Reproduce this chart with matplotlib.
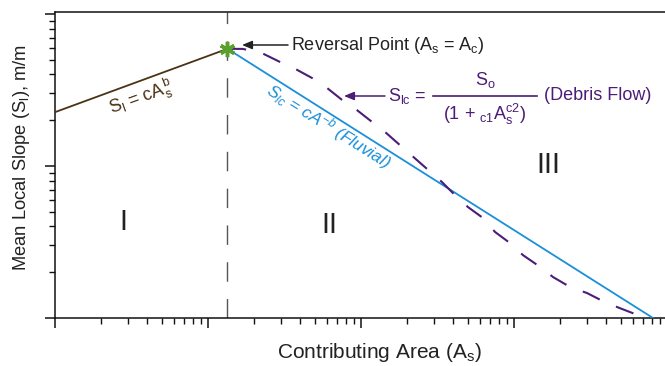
import matplotlib
matplotlib.use('Agg')
import matplotlib.pyplot as plt
from matplotlib.lines import Line2D
from matplotlib.ticker import LogLocator, NullFormatter

plt.rcParams['font.family'] = ['Liberation Sans', 'DejaVu Sans']
plt.rcParams['mathtext.fontset'] = 'custom'
plt.rcParams['mathtext.rm'] = 'Liberation Sans'
plt.rcParams['mathtext.it'] = 'Liberation Sans:italic'
plt.rcParams['mathtext.sf'] = 'Liberation Sans'

# reversal point (A_s = A_c)
rev_area, rev_slope = 13.4, 59.0

# hillslope segment (region I)
hill_area = [1.0, rev_area]
hill_slope = [22.6, rev_slope]

# fluvial segment
fluv_area = [rev_area, 8100.0]
fluv_slope = [rev_slope, 1.0]

# debris flow curve
debris_area = [13.4, 16.9, 22.5, 29.6, 38.2, 47.9, 60.0, 75.2, 94.2, 118, 144, 180,
               243, 338, 411, 500, 627, 752, 942, 1146, 1479, 1799, 2323, 2999,
               3936, 4932, 6368]
debris_slope = [59.0, 58.9, 55.3, 48.3, 42.9, 37.9, 32.6, 27.2, 23.3, 19.5, 16.7, 13.7,
                10.5, 7.85, 6.44, 5.37, 4.55, 3.68, 3.11, 2.59, 2.17, 1.86, 1.60, 1.46,
                1.27, 1.16, 1.05]

brown = '#4a3214'
blue = '#1b8fd8'
purple = '#4b1d78'
W, H = 665, 366


def fx(px):
    return px / W


def fy(py):
    return 1 - py / H


fig = plt.figure(figsize=(6.65, 3.66), dpi=100)
ax = fig.add_axes([fx(55), fy(318), 1 - fx(55), fy(12) - fy(318)])
ax.set_xscale('log')
ax.set_yscale('log')
ax.set_xlim(1, 10 ** 3.987)
ax.set_ylim(1, 10 ** 2.013)

ax.axvline(rev_area, color='#555555', lw=1.0, dashes=(14, 12.5), zorder=1)
ax.plot(hill_area, hill_slope, color=brown, lw=1.3, zorder=3)
ax.plot(fluv_area, fluv_slope, color=blue, lw=1.3, zorder=3)
ax.plot(debris_area, debris_slope, color=purple, lw=1.5, dashes=(9, 8.5), zorder=3)
ax.plot([rev_area], [rev_slope], marker=(6, 2, 0), color='#5aa02c', ms=11, mew=2.5, zorder=5)

# axes styling
ax.xaxis.set_major_locator(LogLocator(base=10, numticks=10))
ax.xaxis.set_minor_locator(LogLocator(base=10, subs=range(2, 10), numticks=20))
ax.yaxis.set_major_locator(LogLocator(base=10, numticks=10))
ax.yaxis.set_minor_locator(LogLocator(base=10, subs=range(2, 10), numticks=20))
ax.xaxis.set_major_formatter(NullFormatter())
ax.xaxis.set_minor_formatter(NullFormatter())
ax.yaxis.set_major_formatter(NullFormatter())
ax.yaxis.set_minor_formatter(NullFormatter())
ax.tick_params(which='major', direction='out', length=7.2, width=1.1, color='#111111')
ax.tick_params(which='minor', direction='out', length=4.3, width=1.0, color='#111111')
ax.spines['right'].set_visible(False)
for s in ['top', 'left', 'bottom']:
    ax.spines[s].set_linewidth(1.1)
    ax.spines[s].set_color('#111111')

# axis labels
fig.text(fx(379), fy(352), r'Contributing Area (A$_\mathrm{s}$)', fontsize=15,
         ha='center', va='center', color='#222222')
fig.text(fx(22), fy(158), r'Mean Local Slope (S$_\mathrm{l}$), m/m', fontsize=13.2,
         ha='center', va='center', rotation=90, color='#222222')

# region numerals
fig.text(fx(123), fy(222), 'I', fontsize=21, ha='center', va='center', color='#222222')
fig.text(fx(329), fy(225), 'II', fontsize=21, ha='center', va='center', color='#222222')
fig.text(fx(548), fy(165), 'III', fontsize=21, ha='center', va='center', color='#222222')

# reversal point
fig.text(fx(291), fy(45), r'Reversal Point (A$_\mathrm{s}$ = A$_\mathrm{c}$)', fontsize=13,
         ha='left', va='center', color='#222222')
ax.annotate('', xy=(fx(242), fy(45)), xycoords='figure fraction',
            xytext=(fx(288), fy(45)), textcoords='figure fraction',
            arrowprops=dict(arrowstyle='-|>,head_length=0.6,head_width=0.25',
                            color='#222222', lw=1.1, shrinkA=0, shrinkB=0))

# line equations
fig.text(fx(141), fy(98), r'S$_\mathrm{l}$ = cA$_\mathrm{s}^{\,\mathrm{b}}$', fontsize=13,
         color=brown, ha='center', va='center', rotation=20)
fig.text(fx(329), fy(126), r'S$_\mathit{lc}$ = cA$^{\mathit{-b}}$ (Fluvial)', fontsize=12.5,
         style='italic', color=blue, ha='center', va='center', rotation=-32)

# debris flow equation
fig.text(fx(388), fy(96), r'S$_\mathrm{lc}$ =', fontsize=13, color=purple,
         ha='left', va='center')
fig.text(fx(485), fy(80), r'S$_\mathrm{o}$', fontsize=13, color=purple,
         ha='center', va='center')
fig.text(fx(485), fy(114), r'(1 + $\mathrm{{}_{c1}A_s^{c2}}$)', fontsize=13, color=purple,
         ha='center', va='center')
fig.add_artist(Line2D([fx(433), fx(537)], [fy(96), fy(96)], color=purple, lw=1.2))
fig.text(fx(544), fy(96), '(Debris Flow)', fontsize=13, color=purple,
         ha='left', va='center')
ax.annotate('', xy=(fx(344), fy(96)), xycoords='figure fraction',
            xytext=(fx(385), fy(96)), textcoords='figure fraction',
            arrowprops=dict(arrowstyle='-|>,head_length=0.6,head_width=0.25',
                            color=purple, lw=1.1, shrinkA=0, shrinkB=0))

fig.savefig('out.png', dpi=100)
